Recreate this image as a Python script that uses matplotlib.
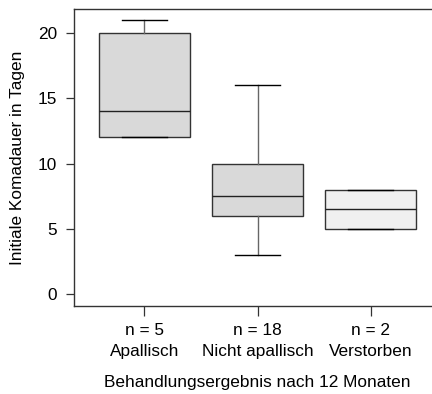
import matplotlib
matplotlib.use("Agg")
import matplotlib.pyplot as plt

plt.rcParams['font.family'] = ['Liberation Sans', 'DejaVu Sans']

groups = ['Apallisch', 'Nicht apallisch', 'Verstorben']
counts = [5, 18, 2]
q1 = [12, 6, 5]
med = [14, 7.5, 6.5]
q3 = [20, 10, 8]
whis_lo = [12, 3, 5]
whis_hi = [21, 16, 8]
fills = ['#d9d9d9', '#d9d9d9', '#f0f0f0']

stats = []
for i in range(len(groups)):
    stats.append({'med': med[i], 'q1': q1[i], 'q3': q3[i],
                  'whislo': whis_lo[i], 'whishi': whis_hi[i], 'fliers': []})

fig = plt.figure(figsize=(4.32, 3.94), dpi=100)
ax = fig.add_axes([74 / 432, 1 - 306 / 394, 367 / 432, 297 / 394])

edge = '#333333'
bp = ax.bxp(stats, positions=[1, 2, 3], widths=0.8, capwidths=0.4,
            showfliers=False, patch_artist=True,
            boxprops=dict(edgecolor=edge, linewidth=1.0),
            medianprops=dict(color='#222222', linewidth=1.0),
            whiskerprops=dict(color='#666666', linewidth=1.0),
            capprops=dict(color='black', linewidth=1.0))
for patch, c in zip(bp['boxes'], fills):
    patch.set_facecolor(c)

fs = 12.4
ax.set_xlim(0.38, 3.62)
ax.set_ylim(-0.92, 21.84)
ax.set_yticks([0, 5, 10, 15, 20])
ax.set_xticks([1, 2, 3])
ax.set_xticklabels([f'n = {n}\n{g}' for n, g in zip(counts, groups)],
                   linespacing=1.5)
ax.tick_params(axis='both', labelsize=fs, color='#333333', width=0.9)
ax.tick_params(axis='y', length=6, pad=6)
ax.tick_params(axis='x', length=7, pad=5)
for s in ax.spines.values():
    s.set_color('#333333')
    s.set_linewidth(1.0)

ax.set_ylabel('Initiale Komadauer in Tagen', fontsize=fs, labelpad=9)
ax.set_xlabel('Behandlungsergebnis nach 12 Monaten', fontsize=fs, labelpad=12)

fig.savefig('out.png', dpi=100)
